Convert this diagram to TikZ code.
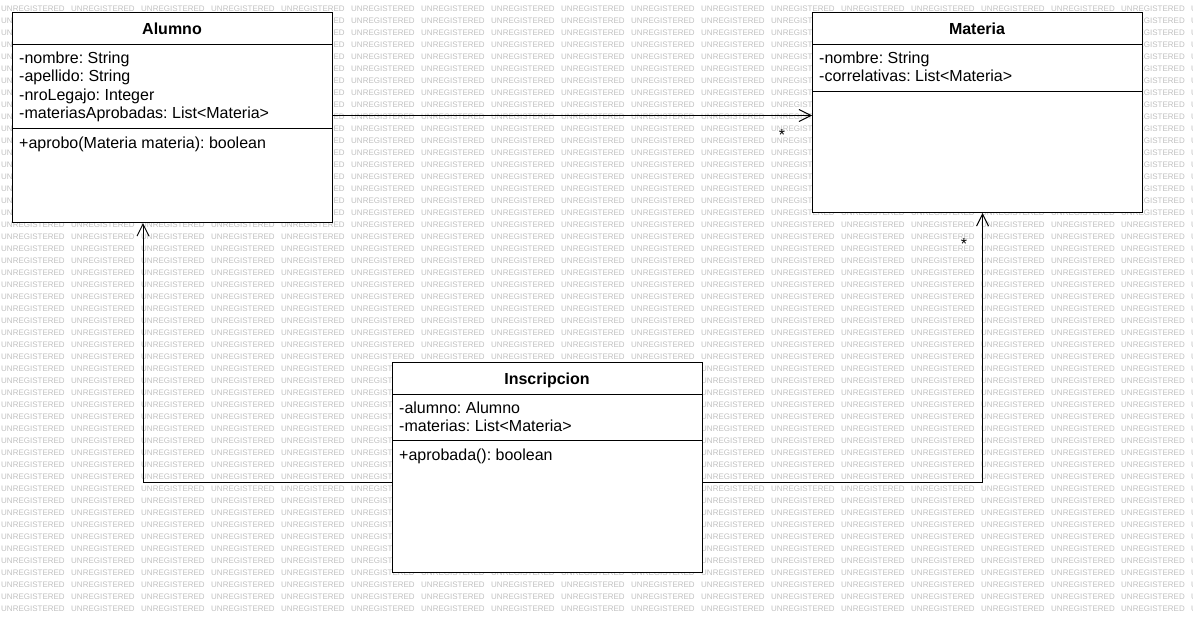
\documentclass[tikz,border=0pt]{standalone}
\usepackage{fontspec}
\setmainfont{Liberation Sans}
\usetikzlibrary{arrows.meta}
\frenchspacing
\definecolor{boxLineColor}{HTML}{000000}
\definecolor{boxFillColor}{HTML}{FFFFFF}
\definecolor{markTextColor}{HTML}{C0C0C0}
\definecolor{linkColor}{HTML}{000000}
\def\textAlumno{Alumno}
\def\textMateria{Materia}
\def\textInscripcion{Inscripcion}
\def\textMark{UNREGISTERED}

\tikzset{
classbox/.style={rectangle, draw=boxLineColor, fill=boxFillColor, line width=1pt, inner sep=0pt, anchor=north west},
classtitle/.style={font=\bfseries\fontsize{16}{18}\selectfont, inner sep=0pt, anchor=base},
member/.style={font=\fontsize{16}{18}\selectfont, inner sep=0pt, anchor=base west},
multlabel/.style={font=\fontsize{16}{18}\selectfont, inner sep=0pt, anchor=center},
marktext/.style={font=\fontsize{8}{9}\selectfont, text=markTextColor, inner sep=0pt, anchor=west},
link/.style={draw=linkColor, line width=1pt, -{Straight Barb[length=12pt,width=12pt]}},
}

\begin{document}
\begin{tikzpicture}[x=1pt,y=-1pt]
\useasboundingbox (0, 0) rectangle (1193, 622);

% watermark layer
\begin{scope}
\foreach \row in {0,...,50}{
\foreach \col in {0,...,17}{
\node[marktext] (mark-\row-\col) at (\col*70+1, \row*12+8.7) {\textMark};
}
}
\end{scope}

% class layer
\begin{scope}[shift={(12, 12)}]
\node[classbox, minimum width=320pt, minimum height=210pt] (alumno) at (0, 0) {};
\draw[line width=1pt] (alumno.west |- 0, 32) -- (alumno.east |- 0, 32);
\draw[line width=1pt] (alumno.west |- 0, 116) -- (alumno.east |- 0, 116);
\node[classtitle] (alumnoTitle) at (160, 22) {\textAlumno};
\node[member] (alumnoNombre) at (7, 51.3) {-nombre: String};
\node[member] (alumnoApellido) at (7, 69.8) {-apellido: String};
\node[member] (alumnoLegajo) at (7, 88.3) {-nroLegajo: Integer};
\node[member] (alumnoMaterias) at (7, 106.8) {-materiasAprobadas: List<Materia>};
\node[member] (alumnoAprobo) at (7, 136) {+aprobo(Materia materia): boolean};
\end{scope}

\begin{scope}[shift={(812, 12)}]
\node[classbox, minimum width=330pt, minimum height=200pt] (materia) at (0, 0) {};
\draw[line width=1pt] (materia.west |- 0, 32) -- (materia.east |- 0, 32);
\draw[line width=1pt] (materia.west |- 0, 79) -- (materia.east |- 0, 79);
\node[classtitle] (materiaTitle) at (165, 22) {\textMateria};
\node[member] (materiaNombre) at (7, 51.3) {-nombre: String};
\node[member] (materiaCorrelativas) at (7, 69.8) {-correlativas: List<Materia>};
\end{scope}

\begin{scope}[shift={(392, 362)}]
\node[classbox, minimum width=310pt, minimum height=210pt] (inscripcion) at (0, 0) {};
\draw[line width=1pt] (inscripcion.west |- 0, 32) -- (inscripcion.east |- 0, 32);
\draw[line width=1pt] (inscripcion.west |- 0, 78) -- (inscripcion.east |- 0, 78);
\node[classtitle] (inscripcionTitle) at (155, 22) {\textInscripcion};
\node[member] (inscripcionAlumno) at (7, 51) {-alumno: Alumno};
\node[member] (inscripcionMaterias) at (7, 69.5) {-materias: List<Materia>};
\node[member] (inscripcionAprobada) at (7, 98) {+aprobada(): boolean};
\end{scope}

% link layer
\begin{scope}
\draw[link] (alumno.east |- 0, 115.5) -- (materia.west |- 0, 115.5);
\draw[link] (inscripcion.west |- 0, 482.5) -| ([xshift=-29.5pt]alumno.south);
\draw[link] (inscripcion.east |- 0, 482.5) -| ([xshift=5pt]materia.south);
\end{scope}

% label layer
\begin{scope}
\node[multlabel] (multCorrelativas) at (782, 135) {*};
\node[multlabel] (multMaterias) at (964, 244) {*};
\end{scope}

\end{tikzpicture}
\end{document}
